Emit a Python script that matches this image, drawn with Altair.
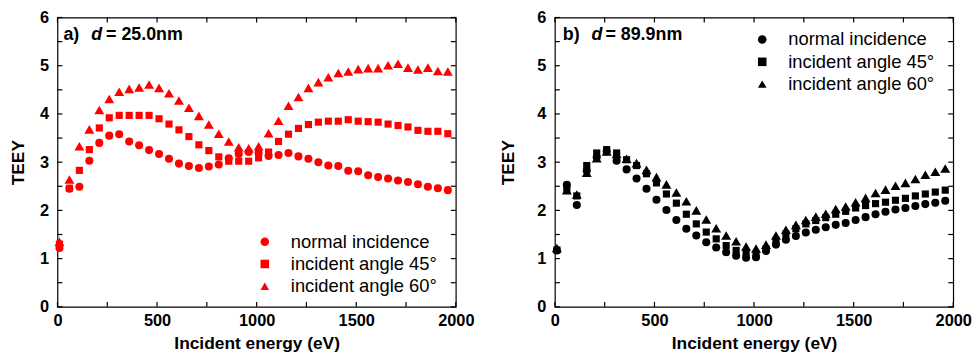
import altair as alt
import pandas as pd

# ---------------- data ----------------
energy = [10, 60, 110, 160, 210, 260, 310, 360, 410, 460,
          510, 560, 610, 660, 710, 760, 810, 860, 910, 960,
          1010, 1060, 1110, 1160, 1210, 1260, 1310, 1360, 1410, 1460,
          1510, 1560, 1610, 1660, 1710, 1760, 1810, 1860, 1910, 1960]

series_names = ["normal incidence", "incident angle 45°", "incident angle 60°"]

# panel a) d = 25.0 nm
a_normal = [1.22, 2.45, 2.49, 3.03, 3.40, 3.55, 3.58, 3.43, 3.35, 3.25,
            3.17, 3.07, 2.97, 2.92, 2.88, 2.91, 2.95, 3.08, 3.17, 3.21,
            3.19, 3.13, 3.15, 3.19, 3.12, 3.07, 3.00, 2.93, 2.92, 2.82,
            2.81, 2.73, 2.69, 2.66, 2.62, 2.59, 2.54, 2.49, 2.46, 2.42]
a_45 = [1.30, 2.46, 2.83, 3.26, 3.71, 3.92, 3.97, 3.97, 3.97, 3.97,
        3.90, 3.79, 3.67, 3.53, 3.36, 3.24, 3.11, 3.02, 3.02, 3.02,
        3.09, 3.21, 3.43, 3.58, 3.70, 3.78, 3.83, 3.85, 3.85, 3.88,
        3.85, 3.84, 3.83, 3.79, 3.76, 3.73, 3.66, 3.64, 3.64, 3.59]
a_60 = [1.35, 2.64, 3.33, 3.68, 4.08, 4.31, 4.46, 4.52, 4.55, 4.61,
        4.54, 4.43, 4.28, 4.13, 3.96, 3.78, 3.59, 3.43, 3.31, 3.29,
        3.33, 3.60, 3.86, 4.17, 4.35, 4.54, 4.66, 4.76, 4.85, 4.88,
        4.93, 4.95, 4.95, 5.01, 5.04, 4.96, 4.92, 4.96, 4.89, 4.88]

# panel b) d = 89.9 nm
b_normal = [1.17, 2.53, 2.11, 2.82, 3.10, 3.22, 3.03, 2.85, 2.66, 2.45,
            2.22, 2.01, 1.80, 1.62, 1.48, 1.34, 1.23, 1.13, 1.06, 1.02,
            1.03, 1.16, 1.29, 1.39, 1.47, 1.54, 1.60, 1.65, 1.70, 1.74,
            1.80, 1.86, 1.92, 1.97, 2.02, 2.05, 2.09, 2.13, 2.16, 2.20]
b_45 = [1.18, 2.44, 2.30, 2.93, 3.19, 3.26, 3.19, 3.05, 2.93, 2.76,
        2.57, 2.34, 2.15, 1.92, 1.72, 1.55, 1.41, 1.27, 1.17, 1.12,
        1.09, 1.20, 1.38, 1.51, 1.62, 1.72, 1.79, 1.85, 1.92, 1.98,
        2.05, 2.10, 2.14, 2.17, 2.21, 2.25, 2.30, 2.34, 2.38, 2.42]
b_60 = [1.22, 2.42, 2.33, 2.78, 3.08, 3.22, 3.17, 3.07, 2.98, 2.84,
        2.69, 2.54, 2.37, 2.19, 2.00, 1.81, 1.63, 1.48, 1.36, 1.25,
        1.21, 1.29, 1.48, 1.60, 1.70, 1.80, 1.87, 1.93, 2.03, 2.08,
        2.17, 2.26, 2.36, 2.43, 2.51, 2.57, 2.65, 2.74, 2.80, 2.87]

x_label_values = [0, 500, 1000, 1500, 2000]
x_tick_values = [0, 250, 500, 750, 1000, 1250, 1500, 1750, 2000]
y_label_values = [0, 1, 2, 3, 4, 5, 6]
y_tick_values = [0, 0.5, 1, 1.5, 2, 2.5, 3, 3.5, 4, 4.5, 5, 5.5, 6]

panel_a_text = ["a)", "d", "= 25.0nm"]
panel_b_text = ["b)", "d", "= 89.9nm"]

x_title = "Incident energy (eV)"
y_title = "TEEY"

W, H = 402, 292
TICK = 5
FONT = "Liberation Sans"
SHAPES = ["circle", "square", "triangle-up"]
SIZES = [66, 52, 100]


def long_frame(s1, s2, s3):
    rows = []
    for name, vals in zip(series_names, [s1, s2, s3]):
        for e, v in zip(energy, vals):
            rows.append({"E": e, "TEEY": v, "series": name})
    return pd.DataFrame(rows)


def panel(df, color, texts, text_x, legend_x, legend_y, ytitle_pad):
    xs = alt.Scale(domain=[0, 2000], nice=False, zero=False)
    ys = alt.Scale(domain=[0, 6], nice=False, zero=False)
    shape_scale = alt.Scale(domain=series_names, range=SHAPES)
    leg = alt.Legend(orient="none", legendX=legend_x, legendY=legend_y,
                     title=None, labelFontSize=18.5, labelFont=FONT,
                     labelColor="black", symbolFillColor=color,
                     symbolStrokeColor=color, symbolStrokeWidth=0,
                     symbolSize=75,
                     rowPadding=3.5, labelOffset=17, padding=0)

    x_axis = alt.Axis(values=x_label_values, ticks=False, tickSize=0,
                      domain=False, grid=False, title=x_title,
                      labelPadding=6, titlePadding=6, format="d",
                      labelOverlap=False, labelFlush=False)
    y_axis = alt.Axis(values=y_label_values, ticks=False, tickSize=0,
                      domain=False, grid=False, title=y_title,
                      labelPadding=9, titlePadding=ytitle_pad,
                      format="d", labelOverlap=False, labelFlush=False)

    # tick marks (inward, on all four sides), positioned through the scales
    xt = alt.Chart(pd.DataFrame({"E": x_tick_values}))
    yt = alt.Chart(pd.DataFrame({"TEEY": y_tick_values}))
    tick_bottom = xt.mark_rule(color="black", strokeWidth=1.2).encode(
        x=alt.X("E:Q", scale=xs, axis=x_axis),
        y=alt.value(H - TICK), y2=alt.value(H))
    tick_top = xt.mark_rule(color="black", strokeWidth=1.2).encode(
        x=alt.X("E:Q", scale=xs, axis=x_axis),
        y=alt.value(0), y2=alt.value(TICK))
    tick_left = yt.mark_rule(color="black", strokeWidth=1.2).encode(
        y=alt.Y("TEEY:Q", scale=ys, axis=y_axis),
        x=alt.value(0), x2=alt.value(TICK))
    tick_right = yt.mark_rule(color="black", strokeWidth=1.2).encode(
        y=alt.Y("TEEY:Q", scale=ys, axis=y_axis),
        x=alt.value(W - TICK), x2=alt.value(W))

    point_layers = []
    for name, sz in zip(series_names, SIZES):
        lay = alt.Chart(df).transform_filter(
            alt.datum.series == name
        ).mark_point(filled=True, opacity=1, color=color, strokeWidth=0,
                     size=sz).encode(
            x=alt.X("E:Q", scale=xs, axis=x_axis),
            y=alt.Y("TEEY:Q", scale=ys, axis=y_axis),
            shape=alt.Shape("series:N", scale=shape_scale, legend=leg),
        )
        point_layers.append(lay)

    tdf = pd.DataFrame({"t": texts})
    styles = ["normal", "italic", "normal"]
    label_layers = []
    for i in range(3):
        sub = alt.Chart(tdf.iloc[[i]]).mark_text(
            align="left", baseline="middle", font=FONT, fontSize=18,
            fontWeight="bold", fontStyle=styles[i], color="black"
        ).encode(x=alt.value(text_x[i]), y=alt.value(18), text="t:N")
        label_layers.append(sub)

    return alt.layer(tick_bottom, tick_top, tick_left, tick_right,
                     *point_layers, *label_layers).properties(
        width=W, height=H)


left = panel(long_frame(a_normal, a_45, a_60), "#ff0000", panel_a_text,
             [6, 34, 49], 200, 217, 12)
right = panel(long_frame(b_normal, b_45, b_60), "#000000", panel_b_text,
              [8, 37, 51], 200, 13, 20)

chart = alt.hconcat(left, right, spacing=24).resolve_scale(
    shape="independent"
).resolve_legend(shape="independent").properties(
    padding={"left": 9, "top": 7, "right": 5, "bottom": 5}
).configure_view(
    stroke="black", strokeWidth=1.2
).configure_axis(
    labelFont=FONT, labelFontSize=16.5, labelFontWeight="bold",
    labelColor="black", titleFont=FONT, titleFontSize=17.5,
    titleFontWeight="bold", titleColor="black"
)

chart.save("out.html", embed_options={"renderer": "svg", "actions": False})
